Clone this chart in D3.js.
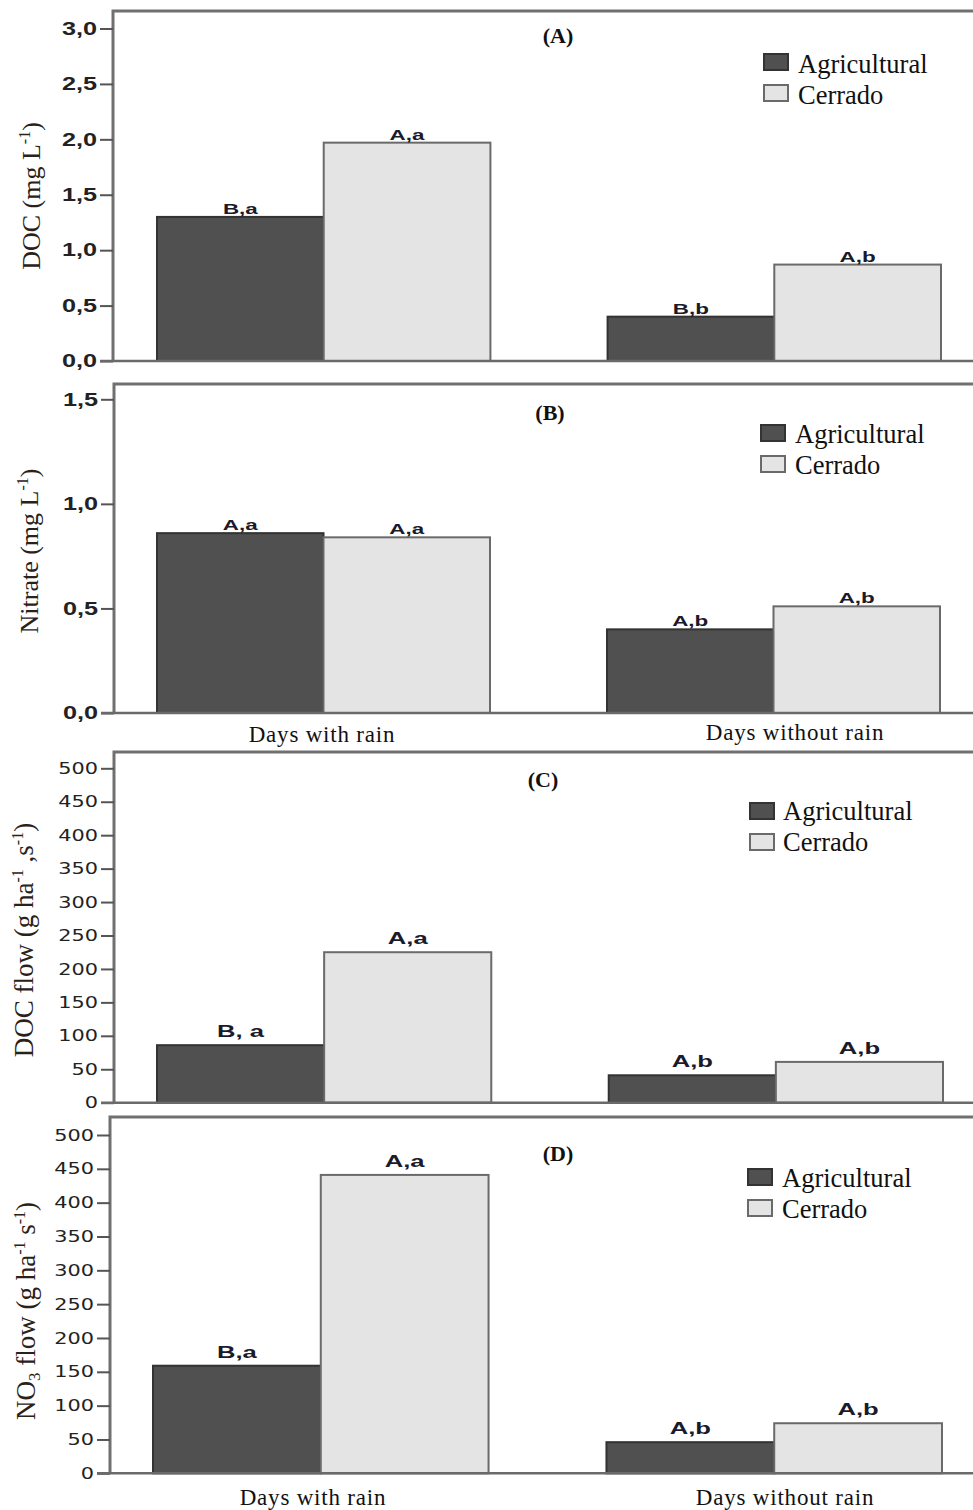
<!DOCTYPE html>
<html>
<head>
<meta charset="utf-8">
<script src="https://cdn.jsdelivr.net/npm/d3@7"></script>
<style>
	body { margin: 0; background: #fff; }
	svg { display: block; }
</style>
</head>
<body>
<div id="chart"></div>
<script>
// categories and series
const categories = ['Days with rain', 'Days without rain'];
const seriesNames = ['Agricultural', 'Cerrado'];

// values
const docAgri = [1.30, 0.40];
const docCerrado = [1.97, 0.87];
const nitrateAgri = [0.86, 0.40];
const nitrateCerrado = [0.84, 0.51];
const docFlowAgri = [86, 41];
const docFlowCerrado = [225, 61];
const no3FlowAgri = [159, 46];
const no3FlowCerrado = [441, 74];

// significance letters above bars [agri, cerrado] per category
const docLetters = [['B,a', 'A,a'], ['B,b', 'A,b']];
const nitrateLetters = [['A,a', 'A,a'], ['A,b', 'A,b']];
const docFlowLetters = [['B, a', 'A,a'], ['A,b', 'A,b']];
const no3FlowLetters = [['B,a', 'A,a'], ['A,b', 'A,b']];

// tick values
const concTicksA = [0, 0.5, 1.0, 1.5, 2.0, 2.5, 3.0];
const concTicksB = [0, 0.5, 1.0, 1.5];
const flowTicks = [0, 50, 100, 150, 200, 250, 300, 350, 400, 450, 500];

const W = 973, H = 1510;
const colors = { Agricultural: '#505050', Cerrado: '#e4e4e4' };
const strokes = { Agricultural: '#333', Cerrado: '#6a6a6a' };

const commaFmt = d3.formatLocale({ decimal: ',', thousands: '.', grouping: [3], currency: ['', ''] }).format('.1f');

const svg = d3.select('#chart').append('svg').attr('width', W).attr('height', H);

// stretch text horizontally (the original figure is stretched)
function stretch(sel, k) {
	sel.each(function () {
		const w = this.getComputedTextLength();
		d3.select(this).attr('textLength', w * k).attr('lengthAdjust', 'spacingAndGlyphs');
	});
}

function addTitle(g, parts, x, y, size) {
	const t = g.append('text')
		.attr('transform', `translate(${x},${y}) rotate(-90)`)
		.attr('text-anchor', 'middle')
		.style('font-family', '"Liberation Serif", "Times New Roman", serif')
		.style('font-size', size + 'px')
		.attr('fill', '#2a2218');
	parts.forEach((p) => {
		const ts = t.append('tspan').text(p.t);
		if (p.sup) ts.style('font-size', '16px').attr('dy', -10);
		if (p.sub) ts.style('font-size', '17px').attr('dy', 5);
		if (p.back) ts.attr('dy', p.back);
	});
}

const panels = [
	{
		id: 'A', agri: docAgri, cerrado: docCerrado, letters: docLetters,
		ticks: concTicksA, max: 3.0, fmt: commaFmt, bold: true,
		top: 11, zero: 361, maxY: 28.5, left: 113, bars: [157, 941],
		title: [558, 43], legend: [764, 54, 798, 73], xlab: null,
		labelSize: 14, labelGap: 3, ts: 26,
		ytitle: [{ t: 'DOC (mg L' }, { t: '-1', sup: true }, { t: ')', back: 10 }], yt: [40, 196],
	},
	{
		id: 'B', agri: nitrateAgri, cerrado: nitrateCerrado, letters: nitrateLetters,
		ticks: concTicksB, max: 1.5, fmt: commaFmt, bold: true,
		top: 384, zero: 713, maxY: 399.3, left: 114, bars: [157, 940],
		title: [550, 420], legend: [761, 425, 795, 443], xlab: [[322, 742], [795, 740]],
		labelSize: 14, labelGap: 3, ts: 26,
		ytitle: [{ t: 'Nitrate (mg L' }, { t: '-1', sup: true }, { t: ')', back: 10 }], yt: [38, 551],
	},
	{
		id: 'C', agri: docFlowAgri, cerrado: docFlowCerrado, letters: docFlowLetters,
		ticks: flowTicks, max: 500, fmt: d3.format('d'), bold: false,
		top: 752, zero: 1102.7, maxY: 768.3, left: 114, bars: [157, 943],
		title: [543, 787], legend: [750, 803, 783, 820], xlab: null,
		labelSize: 16, labelGap: 8, ts: 27,
		ytitle: [{ t: 'DOC flow (g ha' }, { t: '-1', sup: true }, { t: ' ,s', back: 10 }, { t: '-1', sup: true }, { t: ')', back: 10 }], yt: [33, 940],
	},
	{
		id: 'D', agri: no3FlowAgri, cerrado: no3FlowCerrado, letters: no3FlowLetters,
		ticks: flowTicks, max: 500, fmt: d3.format('d'), bold: false,
		top: 1117, zero: 1473.3, maxY: 1135, left: 110, bars: [153, 942],
		title: [558, 1161], legend: [748, 1169, 782, 1187], xlab: [[313, 1505], [785, 1505]],
		labelSize: 16, labelGap: 8, ts: 27,
		ytitle: [{ t: 'NO' }, { t: '3', sub: true }, { t: ' flow (g ha', back: -5 }, { t: '-1', sup: true }, { t: ' s', back: 10 }, { t: '-1', sup: true }, { t: ')', back: 10 }], yt: [35, 1311],
	},
];

panels.forEach((p) => {
	const g = svg.append('g').attr('class', 'panel-' + p.id);

	const y = d3.scaleLinear().domain([0, p.max]).range([p.zero, p.maxY]);
	const x = d3.scaleBand().domain(categories).range(p.bars).paddingInner(0.26);
	const xs = d3.scaleBand().domain(seriesNames).range([0, x.bandwidth()]);

	// frame (right edge runs off the page)
	g.append('path')
		.attr('d', `M${p.left},${p.zero} V${p.top} H${W + 20}`)
		.attr('fill', 'none')
		.attr('stroke', '#707070')
		.attr('stroke-width', 3);

	// bars
	const rows = categories.map((c, i) => ({
		cat: c,
		values: [
			{ s: 'Agricultural', v: p.agri[i], l: p.letters[i][0] },
			{ s: 'Cerrado', v: p.cerrado[i], l: p.letters[i][1] },
		],
	}));

	const grp = g.selectAll('.grp').data(rows).join('g')
		.attr('class', 'grp')
		.attr('transform', (d) => `translate(${x(d.cat)},0)`);

	grp.selectAll('rect').data((d) => d.values).join('rect')
		.attr('x', (d) => xs(d.s))
		.attr('y', (d) => y(d.v))
		.attr('width', xs.bandwidth())
		.attr('height', (d) => y(0) - y(d.v))
		.attr('fill', (d) => colors[d.s])
		.attr('stroke', (d) => strokes[d.s])
		.attr('stroke-width', 2);

	const lab = grp.selectAll('.lab').data((d) => d.values).join('text')
		.attr('class', 'lab')
		.attr('x', (d) => xs(d.s) + xs.bandwidth() / 2)
		.attr('y', (d) => y(d.v) - p.labelGap)
		.attr('text-anchor', 'middle')
		.style('font-family', '"Liberation Sans", Arial, sans-serif')
		.style('font-weight', 'bold')
		.style('font-size', p.labelSize + 'px')
		.attr('fill', '#1a1a2a')
		.text((d) => d.l);
	stretch(lab, 1.6);

	// y axis
	const yAxis = d3.axisLeft(y).tickValues(p.ticks).tickFormat(p.fmt).tickSize(13).tickPadding(3);
	const ag = g.append('g').attr('transform', `translate(${p.left},0)`).call(yAxis);
	ag.select('.domain').remove();
	ag.selectAll('.tick line').attr('stroke', '#555').attr('stroke-width', 2);
	const tt = ag.selectAll('.tick text')
		.attr('fill', '#222')
		.attr('font-family', p.bold ? '"Liberation Sans", Arial, sans-serif' : '"DejaVu Sans", Verdana, sans-serif')
		.attr('font-weight', p.bold ? 'bold' : 'normal')
		.attr('font-size', p.bold ? 18 : 16);
	stretch(tt, p.bold ? 1.4 : 1.3);

	// x baseline
	g.append('line')
		.attr('x1', p.left - 13).attr('x2', W + 20)
		.attr('y1', y(0)).attr('y2', y(0))
		.attr('stroke', '#6a6a6a').attr('stroke-width', 2.5);

	// panel title
	g.append('text')
		.attr('x', p.title[0]).attr('y', p.title[1])
		.attr('text-anchor', 'middle')
		.style('font-family', '"Liberation Serif", "Times New Roman", serif')
		.style('font-weight', 'bold')
		.style('font-size', '22px')
		.attr('fill', '#111')
		.text('(' + p.id + ')');

	// legend
	const [lx, ly, tx, ty] = p.legend;
	seriesNames.forEach((s, i) => {
		g.append('rect')
			.attr('x', lx).attr('y', ly + i * 31)
			.attr('width', 24).attr('height', 16)
			.attr('fill', colors[s]).attr('stroke', strokes[s]).attr('stroke-width', 2);
		g.append('text')
			.attr('x', tx).attr('y', ty + i * 31)
			.style('font-family', '"Liberation Serif", "Times New Roman", serif')
			.style('font-size', '26.5px')
			.attr('fill', '#111')
			.text(s);
	});

	// y title
	addTitle(g, p.ytitle, p.yt[0], p.yt[1], p.ts);

	// x category labels
	if (p.xlab) {
		p.xlab.forEach((pos, i) => {
			g.append('text')
				.attr('x', pos[0]).attr('y', pos[1])
				.attr('text-anchor', 'middle')
				.style('font-family', '"Liberation Serif", "Times New Roman", serif')
				.style('font-size', '23px')
				.style('letter-spacing', '0.8px')
				.attr('fill', '#111')
				.text(categories[i]);
		});
	}
});
</script>
</body>
</html>
